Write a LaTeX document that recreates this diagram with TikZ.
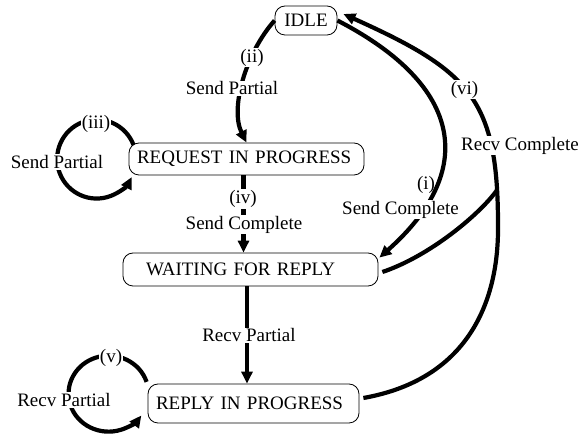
\documentclass[tikz,border=0pt]{standalone}
\usepackage{fontspec}
\setmainfont{Liberation Serif}
\usetikzlibrary{arrows.meta}

\tikzset{
  state/.style={draw, line width=0.8pt, rounded corners=10pt, inner ysep=0pt,
                align=left, font=\fontsize{19}{22}\selectfont},
  trans/.style={line width=4.2pt},
  transarrow/.style={trans, -{Triangle[length=12pt,width=11pt]}},
  lbl/.style={fill=white, inner sep=1pt, font=\fontsize{19}{22}\selectfont},
}

\begin{document}
\begin{tikzpicture}[x=1pt,y=1pt]
  \useasboundingbox (0,0) rectangle (582,439);

  % states
  \node[state, minimum width=62pt, minimum height=29pt, inner xsep=0pt, align=center]
    (idle) at (306,418.5) {IDLE};
  \node[state, inner xsep=8pt, text width=219pt, minimum height=32pt]
    (req) at (246.5,280) {REQUEST IN PROGRESS};
  \node[state, inner xsep=23pt, text width=209pt, minimum height=33pt]
    (wait) at (250.5,169.5) {WAITING FOR REPLY};
  \node[state, inner xsep=8pt, text width=195pt, minimum height=39pt]
    (rep) at (253.5,35.5) {REPLY IN PROGRESS};

  % (ii) IDLE -> REQUEST IN PROGRESS
  \draw[transarrow] (idle.west) .. controls (245,385) and (230,330) .. (req.north);

  % (iii) self loop on REQUEST IN PROGRESS
  \draw[transarrow] ([shift={(4.9,-2.3)}]req.north west)
    arc[start angle=21, end angle=333, radius=39.5];

  % (iv) REQUEST IN PROGRESS -> WAITING FOR REPLY
  \draw[transarrow] ([xshift=-3pt]req.south) -- ([xshift=-3pt]req.south |- wait.north);

  % (i) IDLE -> WAITING FOR REPLY
  \draw[transarrow] (idle.east) .. controls (464,353) and (477,268)
    .. ([shift={(1,-5)}]wait.north east);

  % WAITING FOR REPLY -> REPLY IN PROGRESS
  \draw[transarrow] ([xshift=-3.5pt]wait.south) -- ([xshift=-3.5pt]wait.south |- rep.north);

  % (v) self loop on REPLY IN PROGRESS
  \draw[transarrow] ([shift={(-1,1.7)}]rep.north west)
    arc[start angle=18, end angle=325, x radius=40, y radius=38];

  % (vi) REPLY IN PROGRESS -> IDLE, with WAITING FOR REPLY merging in
  \draw[transarrow] ([shift={(4,5.5)}]rep.east)
    .. controls (470,60) and (499,140) .. (498,214)
    .. controls (498,340) and (470,368) .. coordinate[pos=0.1] (join)
    ([shift={(6,6.5)}]idle.east);
  \draw[trans] ([shift={(4,-2.5)}]wait.east) .. controls (430,183) and (480,225) .. (join);

  % transition labels
  \node[lbl] (l2)  at (252,381.5) {(ii)};
  \node[lbl] (l2t) at (232,350.5) {Send Partial};
  \node[lbl] (l3)  at (96,315.5) {(iii)};
  \node[lbl] (l3t) at (57,277) {Send Partial};
  \node[lbl] (l4)  at (243,240) {(iv)};
  \node[lbl] (l4t) at (244,214.5) {Send Complete};
  \node[lbl, fill=none] (l1) at (426,254) {(i)};
  \node[lbl] (l1t) at (400.5,229.5) {Send Complete};
  \node[lbl] (lrp) at (249,103.5) {Recv Partial};
  \node[lbl] (l5)  at (111,81.5) {(v)};
  \node[lbl] (l5t) at (64,39) {Recv Partial};
  \node[lbl] (l6)  at (464.5,349.5) {(vi)};
  \node[lbl] (l6t) at (520,293.5) {Recv Complete};
\end{tikzpicture}
\end{document}
